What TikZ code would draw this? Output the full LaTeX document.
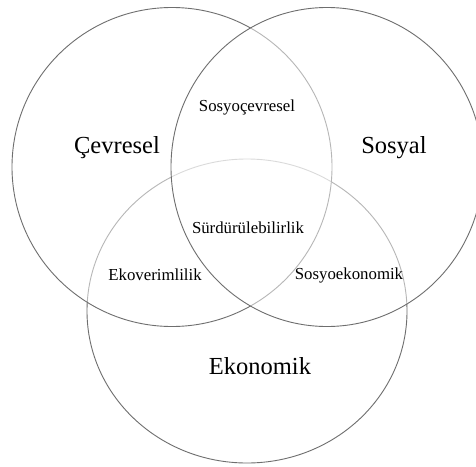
\documentclass[tikz,border=0pt]{standalone}
\usepackage{fontspec}
\setmainfont{Liberation Serif}
\begin{document}
\begin{tikzpicture}[x=1pt,y=-1pt,
  ring/.style={draw=ringgrey,line width=0.9pt,fill=white,fill opacity=0.5},
  biglabel/.style={font=\fontsize{24.5}{28}\selectfont,text=black,inner sep=0pt},
  smalllabel/.style={font=\fontsize{16.8}{20}\selectfont,text=black,inner sep=0pt}]
\definecolor{ringgrey}{HTML}{6E6E6E}
\useasboundingbox (0,0) rectangle (476,466);
\clip (0,0) rectangle (476,466);
\fill[white] (0,0) rectangle (476,466);
% three overlapping sets, drawn bottom-up with translucent white fill
\draw[ring] (247,311) ellipse [x radius=160, y radius=152];
\draw[ring] (172,167) ellipse [x radius=160, y radius=159.5];
\draw[ring] (327,167) ellipse [x radius=156, y radius=159.5];
% set names
\node[biglabel] (cev) at (117,148) {Çevresel};
\node[biglabel] (sos) at (394,148) {Sosyal};
\node[biglabel] (eko) at (260,366) {Ekonomik};
% overlaps
\node[smalllabel] (sc) at (247,107) {Sosyoçevresel};
\node[smalllabel] (sur) at (248,228) {Sürdürülebilirlik};
\node[smalllabel] (ev) at (155,275) {Ekoverimlilik};
\node[smalllabel] (se) at (349,275) {Sosyoekonomik};
\end{tikzpicture}
\end{document}
